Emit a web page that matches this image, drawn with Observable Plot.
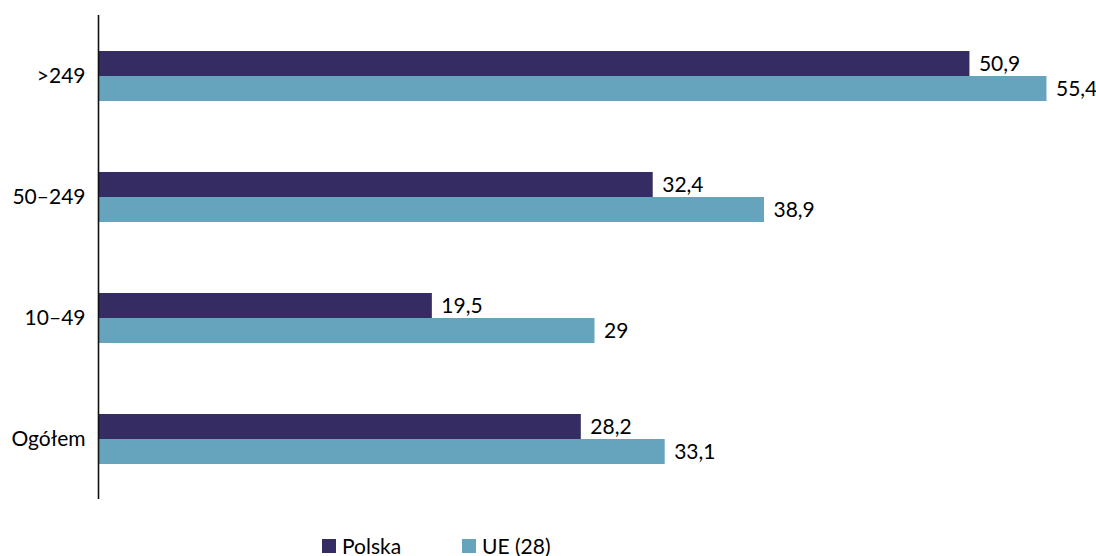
<!DOCTYPE html>
<html>
<head>
<meta charset="utf-8">
<script src="https://cdn.jsdelivr.net/npm/d3@7"></script>
<script src="https://cdn.jsdelivr.net/npm/@observablehq/plot@0.6"></script>
<style>
  html, body { margin: 0; padding: 0; background: #fff; }
  body { width: 1096px; height: 556px; overflow: hidden; font-family: Lato, "Noto Sans", sans-serif; }
  #legend { position: relative; height: 26px; font-size: 21px; color: #000; }
  .item { position: absolute; top: 7px; display: flex; align-items: center; white-space: nowrap; line-height: 18px; }
  .sw { width: 14px; height: 14px; margin-right: 6px; display: inline-block; }
</style>
</head>
<body>
<div id="chart"></div>
<div id="legend"></div>
<script>
const categories = [">249", "50–249", "10–49", "Ogółem"];
const seriesNames = ["Polska", "UE (28)"];
const polska = [50.9, 32.4, 19.5, 28.2];
const ue = [55.4, 38.9, 29, 33.1];
const colors = ["#352c63", "#66a3bd"];

const data = [];
categories.forEach((c, i) => {
  data.push({cat: c, series: seriesNames[0], value: polska[i]});
  data.push({cat: c, series: seriesNames[1], value: ue[i]});
});
const fmt = v => String(v).replace(".", ",");

const chart = Plot.plot({
  width: 1096,
  height: 530,
  marginLeft: 98,
  marginRight: 5,
  marginTop: 14,
  marginBottom: 30,
  style: {fontFamily: "Lato, 'Noto Sans', sans-serif", fontSize: "21px", color: "#000", background: "#fff"},
  x: {domain: [0, 58], axis: null},
  y: {domain: seriesNames, paddingInner: 0, paddingOuter: 1.38, axis: null},
  fy: {domain: categories, padding: 0, label: null},
  color: {domain: seriesNames, range: colors},
  marks: [
    Plot.barX(data, {fy: "cat", y: "series", x: "value", fill: "series"}),
    Plot.text(data, {fy: "cat", y: "series", x: "value", text: d => fmt(d.value), textAnchor: "start", dx: 9, fill: "#000", fontSize: 21}),
    Plot.ruleX([0], {stroke: "#111", strokeWidth: 1.6}),
    Plot.axisFy({anchor: "left", tickSize: 0, tickPadding: 13, label: null, fontSize: 21, fill: "#000"})
  ]
});
document.getElementById("chart").appendChild(chart);

const legend = document.getElementById("legend");
const lefts = [322, 462];
seriesNames.forEach((s, i) => {
  const it = document.createElement("div");
  it.className = "item";
  it.style.left = lefts[i] + "px";
  const sw = document.createElement("span");
  sw.className = "sw";
  sw.style.background = colors[i];
  it.appendChild(sw);
  it.appendChild(document.createTextNode(s));
  legend.appendChild(it);
});
</script>
</body>
</html>
